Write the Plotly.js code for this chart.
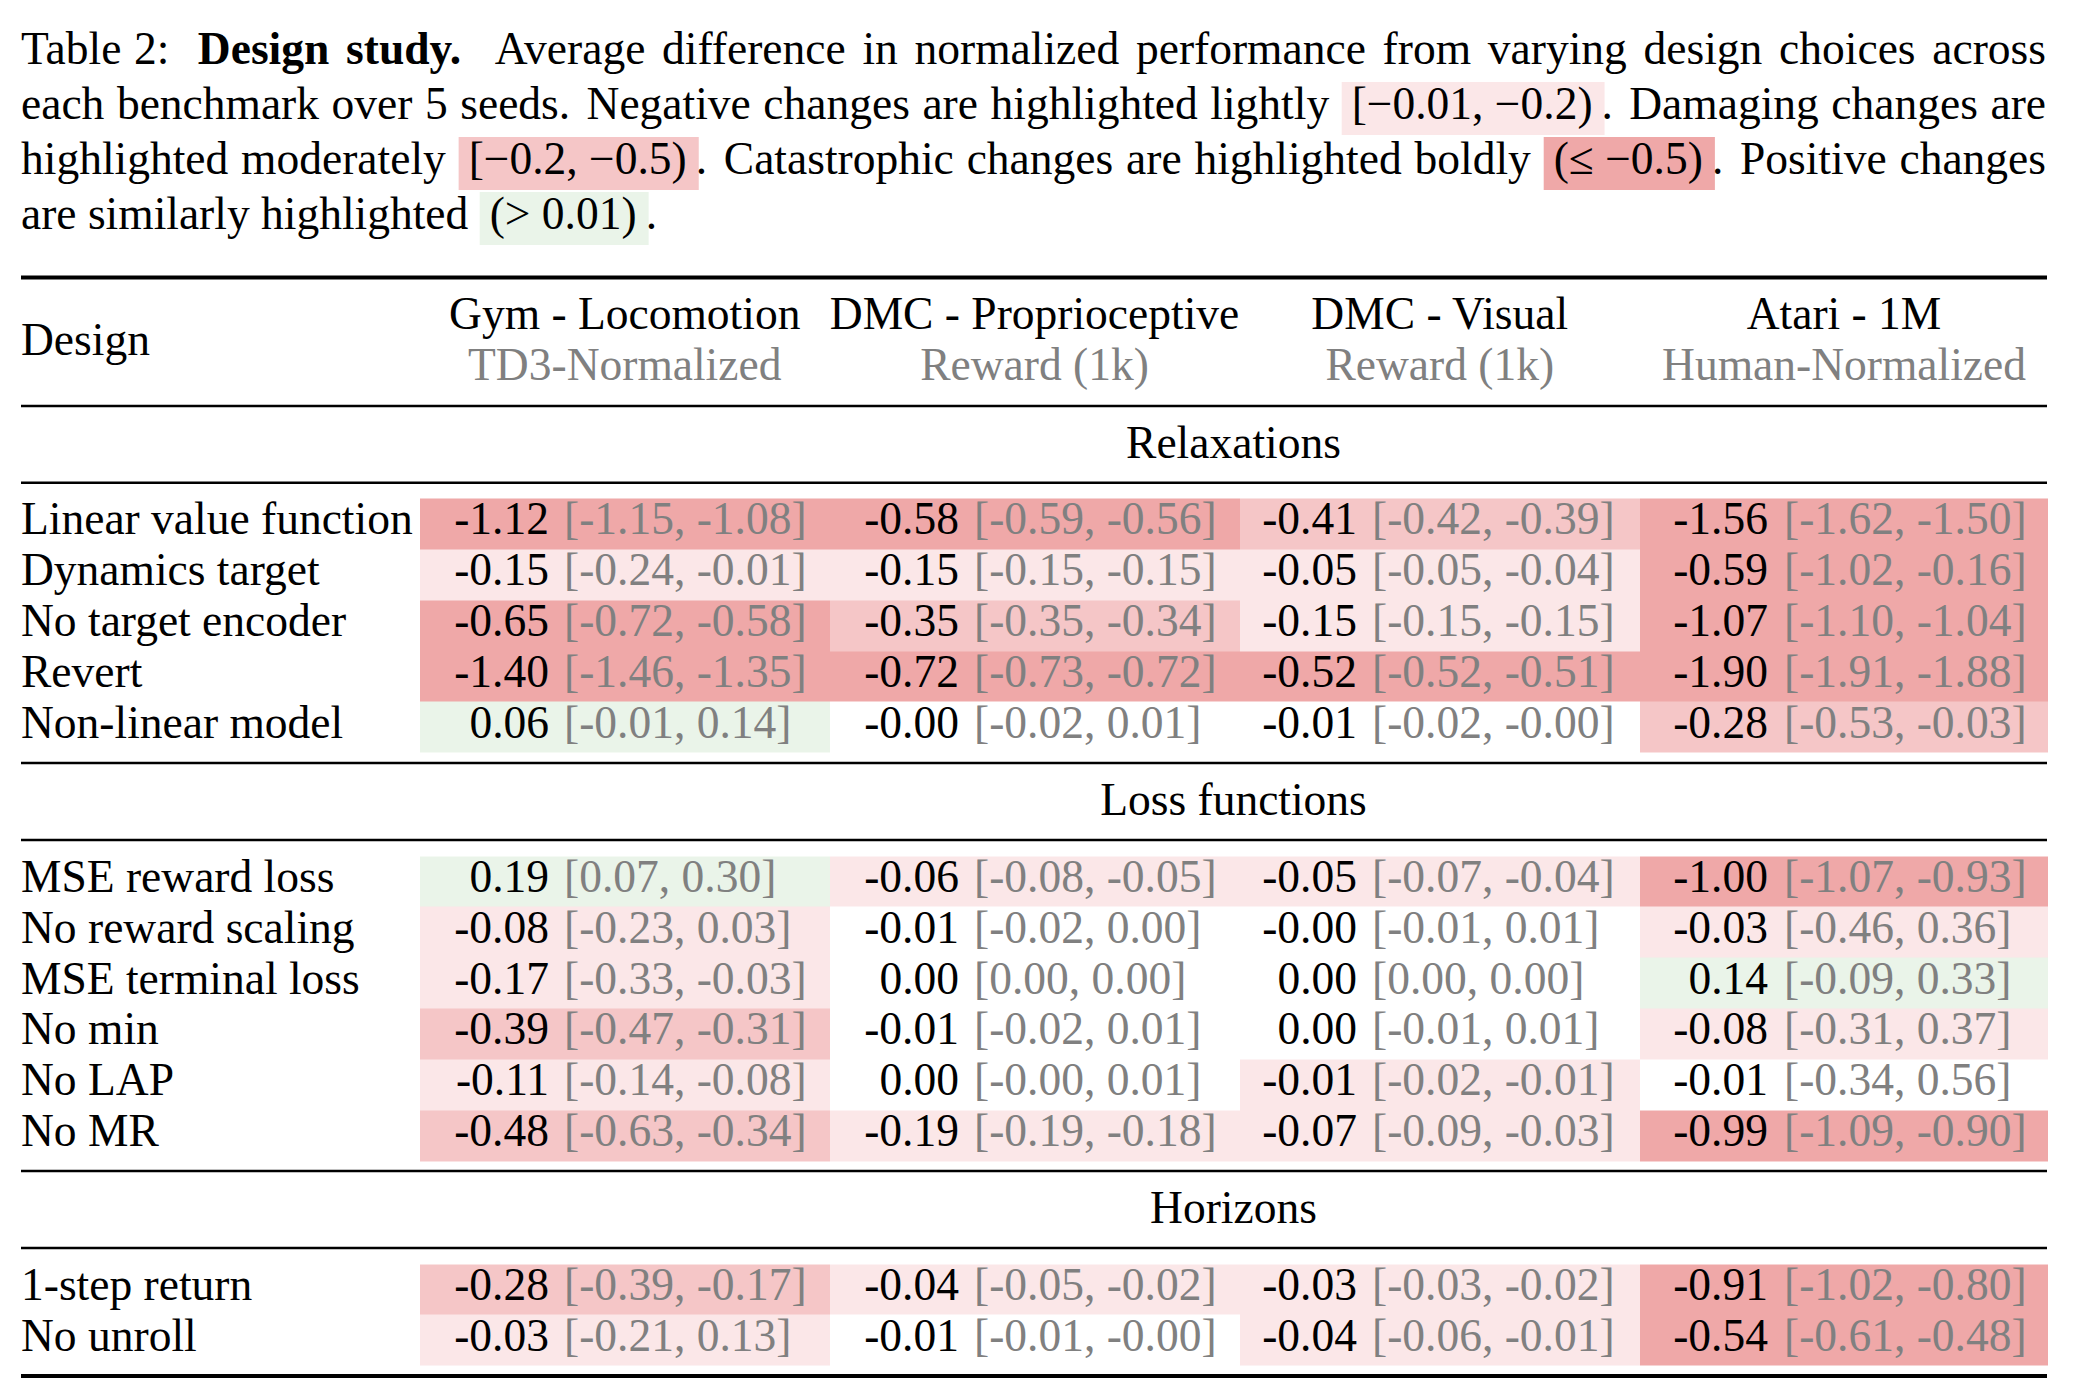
<!DOCTYPE html>
<html><head><meta charset="utf-8">
<script src="https://cdn.plot.ly/plotly-3.0.1.min.js"></script>
<style>html,body{margin:0;padding:0;background:#fff;overflow:hidden}</style>
</head><body><div id="chart" style="width:2074px;height:1394px"></div>
<script>
const benchmarks = ['Gym - Locomotion', 'DMC - Proprioceptive', 'DMC - Visual', 'Atari - 1M'];
const metrics = ['TD3-Normalized', 'Reward (1k)', 'Reward (1k)', 'Human-Normalized'];
const groups = ['Relaxations', 'Loss functions', 'Horizons'];
const relaxations = ['Linear value function', 'Dynamics target', 'No target encoder', 'Revert', 'Non-linear model'];
const lossFunctions = ['MSE reward loss', 'No reward scaling', 'MSE terminal loss', 'No min', 'No LAP', 'No MR'];
const horizons = ['1-step return', 'No unroll'];

const gymMean  = [-1.12, -0.15, -0.65, -1.40, 0.06,   0.19, -0.08, -0.17, -0.39, -0.11, -0.48,  -0.28, -0.03];
const gymLow   = [-1.15, -0.24, -0.72, -1.46, -0.01,  0.07, -0.23, -0.33, -0.47, -0.14, -0.63,  -0.39, -0.21];
const gymHigh  = [-1.08, -0.01, -0.58, -1.35, 0.14,   0.30, 0.03, -0.03, -0.31, -0.08, -0.34,   -0.17, 0.13];

const dmcpMean = [-0.58, -0.15, -0.35, -0.72, -0.00,  -0.06, -0.01, 0.00, -0.01, 0.00, -0.19,   -0.04, -0.01];
const dmcpLow  = [-0.59, -0.15, -0.35, -0.73, -0.02,  -0.08, -0.02, 0.00, -0.02, -0.00, -0.19,  -0.05, -0.01];
const dmcpHigh = [-0.56, -0.15, -0.34, -0.72, 0.01,   -0.05, 0.00, 0.00, 0.01, 0.01, -0.18,     -0.02, -0.00];

const dmcvMean = [-0.41, -0.05, -0.15, -0.52, -0.01,  -0.05, -0.00, 0.00, 0.00, -0.01, -0.07,   -0.03, -0.04];
const dmcvLow  = [-0.42, -0.05, -0.15, -0.52, -0.02,  -0.07, -0.01, 0.00, -0.01, -0.02, -0.09,  -0.03, -0.06];
const dmcvHigh = [-0.39, -0.04, -0.15, -0.51, -0.00,  -0.04, 0.01, 0.00, 0.01, -0.01, -0.03,    -0.02, -0.01];

const atariMean = [-1.56, -0.59, -1.07, -1.90, -0.28, -1.00, -0.03, 0.14, -0.08, -0.01, -0.99,  -0.91, -0.54];
const atariLow  = [-1.62, -1.02, -1.10, -1.91, -0.53, -1.07, -0.46, -0.09, -0.31, -0.34, -1.09, -1.02, -0.61];
const atariHigh = [-1.50, -0.16, -1.04, -1.88, -0.03, -0.93, 0.36, 0.33, 0.37, 0.56, -0.90,     -0.80, -0.48];

// highlight level of each cell as seen in the picture (L light, M moderate, B bold, G positive, '' none)
const gymShade   = ['B','L','B','B','G',  'G','L','L','M','L','M',  'M','L'];
const dmcpShade  = ['B','L','M','B','',   'L','','','','','L',      'L',''];
const dmcvShade  = ['M','L','L','B','',   'L','','','','L','L',     'L','L'];
const atariShade = ['B','B','B','B','M',  'B','L','G','L','','B',   'B','B'];

// caption tokens: [text, style, tail]
const captionLines = [
  [['Table'],['2:'],['Design','b'],['study.','b'],['Average'],['difference'],['in'],['normalized'],['performance'],['from'],['varying'],['design'],['choices'],['across']],
  [['each'],['benchmark'],['over'],['5'],['seeds.'],['Negative'],['changes'],['are'],['highlighted'],['lightly'],['[\u22120.01, \u22120.2)','L','.'],['Damaging'],['changes'],['are']],
  [['highlighted'],['moderately'],['[\u22120.2, \u22120.5)','M','.'],['Catastrophic'],['changes'],['are'],['highlighted'],['boldly'],['(\u2264 \u22120.5)','B','.'],['Positive'],['changes']],
  [['are'],['similarly'],['highlighted'],['(> 0.01)','G','.']]
];

// ---------------- styling / geometry ----------------
const W = 2074, H = 1394;
const FS = 45.5;
const FONT = '"Liberation Serif", "Times New Roman", Times, serif';
const GRAY = 'rgb(128,128,128)';
const COLORS = {L: 'rgb(251,231,232)', M: 'rgb(245,198,199)', B: 'rgb(239,168,168)', G: 'rgb(234,244,233)'};
const LEVEL = {L: 1, M: 2, B: 3, G: 4};
const LEFT = 21, RIGHT = 2047;
const colEdges = [420, 829.5, 1239.5, 1640, 2048];
const colCenters = colEdges.slice(0, 4).map((e, i) => (e + colEdges[i + 1]) / 2);
const valRight = [549, 959, 1357, 1768];
const ivlLeft = [564, 974, 1372, 1784];
const groupTop = [498.5, 856, 1264];
const ROWH = 50.85;
const rules = [[277.5, 3.8], [406, 2.4], [482.7, 2.4], [763, 2.4], [840, 2.4], [1171, 2.4], [1248, 2.4], [1376, 3.8]];
const groupLabelY = [447, 804, 1212];
const TXT = 0.25 * FS; // baseline offset of a 'middle' text point

// ---------------- build ----------------
const groupRows = [relaxations, lossFunctions, horizons];
const designs = [].concat(...groupRows);
const rowY = [];
groupRows.forEach((rows, g) => rows.forEach((_, k) => rowY.push(groupTop[g] + (k + 0.5) * ROWH)));

const means = [gymMean, dmcpMean, dmcvMean, atariMean];
const lows = [gymLow, dmcpLow, dmcvLow, atariLow];
const highs = [gymHigh, dmcpHigh, dmcvHigh, atariHigh];
const shades = [gymShade, dmcpShade, dmcvShade, atariShade];

function fmt(v) { const neg = v < 0 || Object.is(v, -0); return (neg ? '-' : '') + Math.abs(v).toFixed(2); }

// heatmap cells (with empty rows for the group separators)
const yEdges = [], zRows = [];
let idx = 0;
groupRows.forEach((rows, g) => {
  rows.forEach((_, k) => {
    yEdges.push(groupTop[g] + k * ROWH);
    zRows.push(shades.map(s => s[idx] ? LEVEL[s[idx]] : null));
    idx++;
  });
  yEdges.push(groupTop[g] + rows.length * ROWH);
  if (g < groupRows.length - 1) zRows.push([null, null, null, null]);
});

const traces = [];
traces.push({
  type: 'heatmap', x: colEdges, y: yEdges, z: zRows, zmin: 0.5, zmax: 4.5, zsmooth: false,
  colorscale: [[0, COLORS.L], [0.25, COLORS.L], [0.25, COLORS.M], [0.5, COLORS.M],
               [0.5, COLORS.B], [0.75, COLORS.B], [0.75, COLORS.G], [1, COLORS.G]],
  showscale: false, hoverinfo: 'skip'
});

function textTrace(x, y, text, pos, color) {
  return {type: 'scatter', mode: 'text', x, y, text, textposition: pos,
    textfont: {family: FONT, size: FS, color: color || 'black'},
    hoverinfo: 'skip', showlegend: false, cliponaxis: false};
}
const rowTextY = rowY.map(y => y - 1);
traces.push(textTrace(designs.map(() => LEFT), rowTextY, designs, 'middle right'));
for (let c = 0; c < 4; c++) {
  traces.push(textTrace(designs.map(() => valRight[c]), rowTextY, means[c].map(fmt), 'middle left'));
  traces.push(textTrace(designs.map(() => ivlLeft[c]), rowTextY,
    lows[c].map((lo, i) => '[' + fmt(lo) + ', ' + fmt(highs[c][i]) + ']'), 'middle right', GRAY));
}
traces.push(textTrace(groups.map(() => (colEdges[0] + RIGHT) / 2), groupLabelY, groups, 'middle center'));
traces.push(textTrace(colCenters, benchmarks.map(() => 329 - TXT), benchmarks, 'middle center'));
traces.push(textTrace(colCenters, metrics.map(() => 380 - TXT), metrics, 'middle center', GRAY));
traces.push(textTrace([LEFT], [355 - TXT], ['Design'], 'middle right'));

// caption, justified like the LaTeX paragraph
const ctx = document.createElement('canvas').getContext('2d');
function tw(s, bold) { ctx.font = (bold ? 'bold ' : '') + FS + 'px ' + FONT; return ctx.measureText(s).width; }
const PAD = 11;
const baselines = [64, 119, 174, 229];
const gapWeights = [{0: 0.75, 1: 1.7, 3: 2.0}, {4: 1.3, 10: 1.3}, {2: 1.3, 8: 1.3}, {}];
const capX = [], capY = [], capT = [];
const shapes = [];
captionLines.forEach((line, li) => {
  const widths = line.map(t => {
    if (COLORS[t[1]]) return tw(t[0]) + 2 * PAD + (t[2] ? tw(t[2]) - 3 : 0);
    return tw(t[0], t[1] === 'b');
  });
  const total = widths.reduce((a, b) => a + b, 0);
  let wsum = 0;
  for (let i = 0; i < line.length - 1; i++) wsum += (gapWeights[li][i] || 1);
  const gap = li < 3 ? (RIGHT - 1 - LEFT - total) / wsum : tw(' ');
  let x = LEFT;
  const by = baselines[li];
  line.forEach((t, i) => {
    if (COLORS[t[1]]) {
      const bw = tw(t[0]) + 2 * PAD;
      shapes.push({type: 'rect', xref: 'x', yref: 'y', x0: x, x1: x + bw, y0: by - 37, y1: by + 16,
        fillcolor: COLORS[t[1]], line: {width: 0}, layer: 'below'});
      capX.push(x + PAD - 1); capY.push(by - TXT); capT.push(t[0]);
      if (t[2]) { capX.push(x + bw - 3); capY.push(by - TXT); capT.push(t[2]); }
    } else {
      capX.push(x); capY.push(by - TXT); capT.push(t[1] === 'b' ? '<b>' + t[0] + '</b>' : t[0]);
    }
    x += widths[i] + (gapWeights[li][i] || 1) * gap;
  });
});
traces.push(textTrace(capX, capY, capT, 'middle right'));

rules.forEach(r => shapes.push({type: 'line', xref: 'x', yref: 'y', x0: LEFT, x1: RIGHT, y0: r[0], y1: r[0],
  line: {color: 'black', width: r[1]}}));

const layout = {
  width: W, height: H, margin: {l: 0, r: 0, t: 0, b: 0, pad: 0},
  paper_bgcolor: 'white', plot_bgcolor: 'white', showlegend: false,
  xaxis: {range: [0, W], visible: false, fixedrange: true},
  yaxis: {range: [H, 0], visible: false, fixedrange: true},
  shapes: shapes, font: {family: FONT, size: FS}
};
Plotly.newPlot('chart', traces, layout, {staticPlot: true, displayModeBar: false});
</script></body></html>
